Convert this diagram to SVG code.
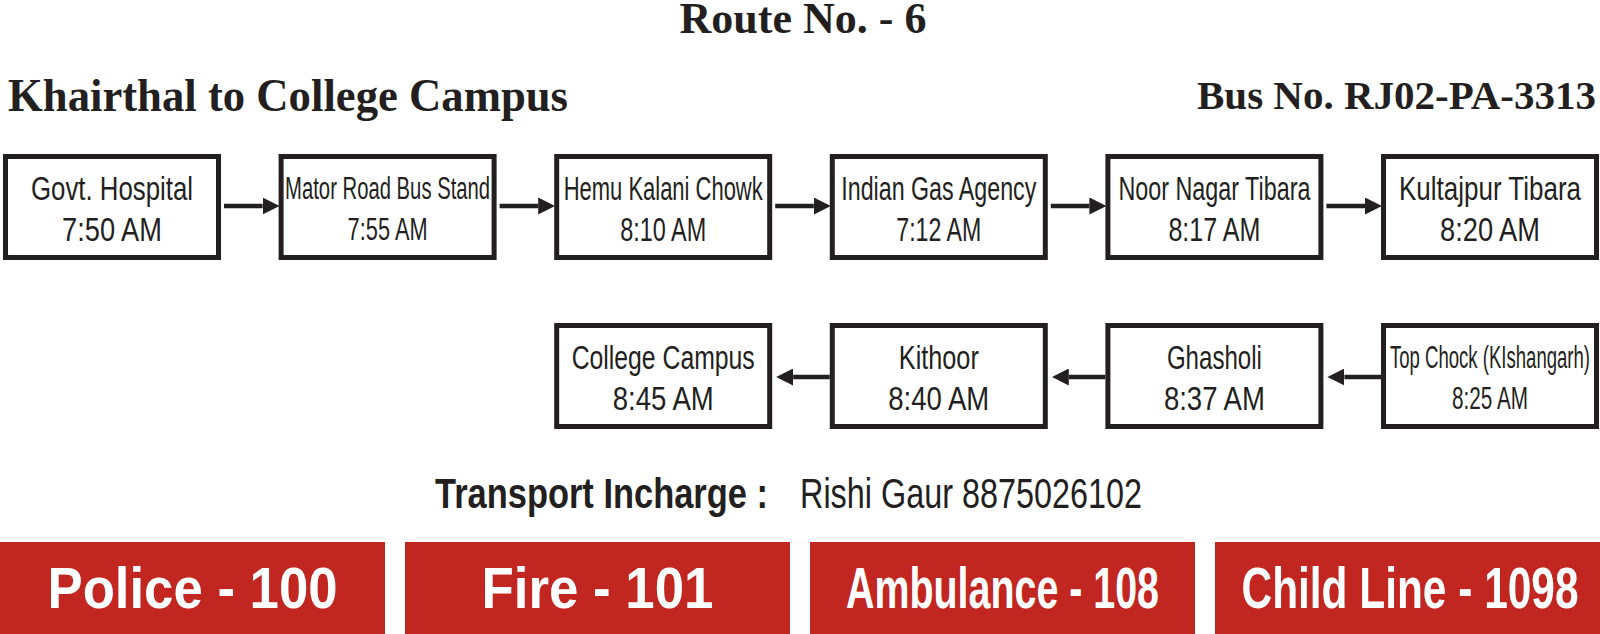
<svg xmlns="http://www.w3.org/2000/svg" width="1600" height="634" viewBox="0 0 1600 634">
<style>
  .hdr{font-family:"Liberation Serif","Times New Roman",serif;font-weight:bold;fill:#231f20}
  .box{fill:#fff;stroke:#231f20;stroke-width:5}
  .lbl{font-family:"Liberation Sans Narrow","Liberation Sans",Arial,sans-serif;font-size:34px;fill:#231f20;text-anchor:middle}
  .sm{font-size:31px}
  .con{stroke:#231f20;stroke-width:4.3;fill:none}
  .red{fill:#c22621}
  .em{font-family:"Liberation Sans",Arial,sans-serif;font-weight:bold;font-size:57px;fill:#fff;text-anchor:middle}
  .ti{font-family:"Liberation Sans Narrow","Liberation Sans",Arial,sans-serif;font-size:43px;fill:#231f20}
</style>
<defs>
  <marker id="ah" viewBox="0 -8.5 17 17" refX="0" refY="0" markerWidth="17" markerHeight="17" markerUnits="userSpaceOnUse" orient="auto">
    <path d="M0,-8.5 L17,0 L0,8.5 z" fill="#231f20"/>
  </marker>
</defs>
<rect width="1600" height="634" fill="#fff"/>

<text class="hdr" x="803" y="33" font-size="44" text-anchor="middle">Route No. - 6</text>
<text class="hdr" x="8" y="111" font-size="46" textLength="560" lengthAdjust="spacingAndGlyphs">Khairthal to College Campus</text>
<text class="hdr" x="1596" y="109" font-size="41" text-anchor="end">Bus No. RJ02-PA-3313</text>

<g id="connectors">
  <line class="con" x1="224" y1="206" x2="262.6" y2="206" marker-end="url(#ah)"/>
  <line class="con" x1="499.6" y1="206" x2="538.2" y2="206" marker-end="url(#ah)"/>
  <line class="con" x1="775.2" y1="206" x2="813.8" y2="206" marker-end="url(#ah)"/>
  <line class="con" x1="1050.8" y1="206" x2="1089.4" y2="206" marker-end="url(#ah)"/>
  <line class="con" x1="1326.4" y1="206" x2="1365" y2="206" marker-end="url(#ah)"/>
  <line class="con" x1="1381" y1="377" x2="1344.4" y2="377" marker-end="url(#ah)"/>
  <line class="con" x1="1105.4" y1="377" x2="1068.8" y2="377" marker-end="url(#ah)"/>
  <line class="con" x1="829.8" y1="377" x2="793.2" y2="377" marker-end="url(#ah)"/>
</g>

<g id="govt-hospital">
  <rect class="box" x="5.5" y="156.5" width="213" height="101"/>
  <text class="lbl" x="112" y="200" textLength="162" lengthAdjust="spacingAndGlyphs">Govt. Hospital</text>
  <text class="lbl" x="112" y="241" textLength="100" lengthAdjust="spacingAndGlyphs">7:50 AM</text>
</g>
<g id="mator-road">
  <rect class="box" x="281.1" y="156.5" width="213" height="101"/>
  <text class="lbl sm" x="387.6" y="199" textLength="205" lengthAdjust="spacingAndGlyphs">Mator Road Bus Stand</text>
  <text class="lbl sm" x="387.6" y="240" textLength="80" lengthAdjust="spacingAndGlyphs">7:55 AM</text>
</g>
<g id="hemu-kalani">
  <rect class="box" x="556.7" y="156.5" width="213" height="101"/>
  <text class="lbl" x="663.2" y="200" textLength="199" lengthAdjust="spacingAndGlyphs">Hemu Kalani Chowk</text>
  <text class="lbl" x="663.2" y="241" textLength="86" lengthAdjust="spacingAndGlyphs">8:10 AM</text>
</g>
<g id="indian-gas">
  <rect class="box" x="832.3" y="156.5" width="213" height="101"/>
  <text class="lbl" x="938.8" y="200" textLength="195" lengthAdjust="spacingAndGlyphs">Indian Gas Agency</text>
  <text class="lbl" x="938.8" y="241" textLength="85" lengthAdjust="spacingAndGlyphs">7:12 AM</text>
</g>
<g id="noor-nagar">
  <rect class="box" x="1107.9" y="156.5" width="213" height="101"/>
  <text class="lbl" x="1214.4" y="200" textLength="192" lengthAdjust="spacingAndGlyphs">Noor Nagar Tibara</text>
  <text class="lbl" x="1214.4" y="241" textLength="92" lengthAdjust="spacingAndGlyphs">8:17 AM</text>
</g>
<g id="kultajpur">
  <rect class="box" x="1383.5" y="156.5" width="213" height="101"/>
  <text class="lbl" x="1490" y="200" textLength="182" lengthAdjust="spacingAndGlyphs">Kultajpur Tibara</text>
  <text class="lbl" x="1490" y="241" textLength="100" lengthAdjust="spacingAndGlyphs">8:20 AM</text>
</g>

<g id="college-campus">
  <rect class="box" x="556.7" y="325.5" width="213" height="101"/>
  <text class="lbl" x="663.2" y="369" textLength="183" lengthAdjust="spacingAndGlyphs">College Campus</text>
  <text class="lbl" x="663.2" y="410" textLength="101" lengthAdjust="spacingAndGlyphs">8:45 AM</text>
</g>
<g id="kithoor">
  <rect class="box" x="832.3" y="325.5" width="213" height="101"/>
  <text class="lbl" x="938.8" y="369" textLength="80" lengthAdjust="spacingAndGlyphs">Kithoor</text>
  <text class="lbl" x="938.8" y="410" textLength="101" lengthAdjust="spacingAndGlyphs">8:40 AM</text>
</g>
<g id="ghasholi">
  <rect class="box" x="1107.9" y="325.5" width="213" height="101"/>
  <text class="lbl" x="1214.4" y="369" textLength="95" lengthAdjust="spacingAndGlyphs">Ghasholi</text>
  <text class="lbl" x="1214.4" y="410" textLength="101" lengthAdjust="spacingAndGlyphs">8:37 AM</text>
</g>
<g id="top-chock">
  <rect class="box" x="1383.5" y="325.5" width="213" height="101"/>
  <text class="lbl sm" x="1490" y="368" textLength="200" lengthAdjust="spacingAndGlyphs">Top Chock (KIshangarh)</text>
  <text class="lbl sm" x="1490" y="409" textLength="76" lengthAdjust="spacingAndGlyphs">8:25 AM</text>
</g>

<g id="transport-incharge">
  <text class="ti" x="435" y="508" font-weight="bold" textLength="333" lengthAdjust="spacingAndGlyphs">Transport Incharge :</text>
  <text class="ti" x="800" y="508" textLength="342" lengthAdjust="spacingAndGlyphs">Rishi Gaur 8875026102</text>
</g>

<g id="police">
  <rect class="red" x="0" y="542" width="385" height="92"/>
  <text class="em" x="192.5" y="608" textLength="290" lengthAdjust="spacingAndGlyphs">Police - 100</text>
</g>
<g id="fire">
  <rect class="red" x="405" y="542" width="385" height="92"/>
  <text class="em" x="597.5" y="608" textLength="232" lengthAdjust="spacingAndGlyphs">Fire - 101</text>
</g>
<g id="ambulance">
  <rect class="red" x="810" y="542" width="385" height="92"/>
  <text class="em" x="1002.5" y="608" textLength="313" lengthAdjust="spacingAndGlyphs">Ambulance - 108</text>
</g>
<g id="child-line">
  <rect class="red" x="1215" y="542" width="385" height="92"/>
  <text class="em" x="1410" y="608" textLength="337" lengthAdjust="spacingAndGlyphs">Child Line - 1098</text>
</g>
</svg>
